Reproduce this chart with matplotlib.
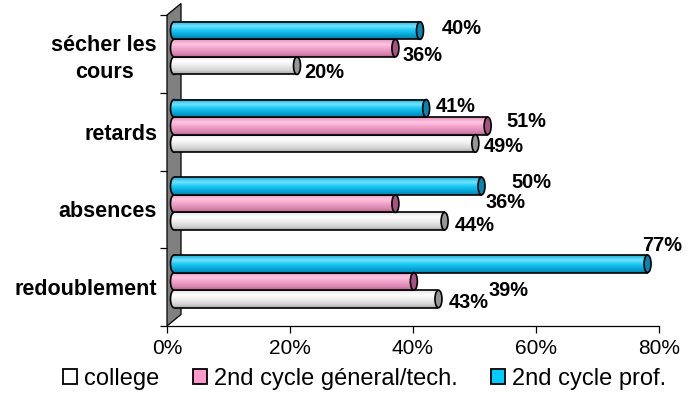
import numpy as np
import matplotlib
matplotlib.use("Agg")
import matplotlib.pyplot as plt
import matplotlib.transforms as mtransforms
from matplotlib.patches import Ellipse, Polygon, Patch
from matplotlib.colors import LinearSegmentedColormap

# ---- data -------------------------------------------------------------
categories = ["redoublement", "absences", "retards", "sécher les\ncours"]
series_names = ["college", "2nd cycle géneral/tech.", "2nd cycle prof."]
college = [43, 44, 49, 20]
general_tech = [39, 36, 51, 36]
prof = [77, 50, 41, 40]
x_ticks = [0, 20, 40, 60, 80]
x_tick_labels = ["0%", "20%", "40%", "60%", "80%"]

# ---- style ------------------------------------------------------------
plt.rcParams["font.family"] = ["Liberation Sans", "DejaVu Sans"]

# vertical shading of each cylinder (top -> bottom) and end-cap colour
gradients = [
    ["#e2e2e2", "#ffffff", "#eeeeee", "#d4d4d4", "#a8a8a8"],
    ["#e690bc", "#ffc6e2", "#f2a6cc", "#da88b2", "#b4668e"],
    ["#14b0dc", "#74e2ff", "#1ccaf6", "#04a2d2", "#0680aa"],
]
cap_colors = ["#969696", "#a45482", "#0a84ac"]
legend_colors = ["#ffffff", "#ff99cc", "#00ccff"]

# label offsets from the bar end, in pixels (right, down) per series/category
label_offsets = {
    0: [(30, 4), (30, 4.5), (28, 3), (27, 6.5)],
    1: [(95, 9.5), (110, -1), (39, -4), (27, 7)],
    2: [(15, -18), (50, -3.5), (30, -2), (42, -2)],
}

W, H, DPI = 698, 394, 100
fig = plt.figure(figsize=(W / DPI, H / DPI), dpi=DPI)
ax_left, ax_right, ax_top, ax_bottom = 167, 659, 15, 326
ax = fig.add_axes([ax_left / W, (H - ax_bottom) / H,
                   (ax_right - ax_left) / W, (ax_bottom - ax_top) / H])
ax.set_xlim(0, 80)
ax.set_ylim(0, len(categories))

px = 1.0 / DPI
# 3-D depth of the chart: wall thickness and bar centre offset
depth_x, depth_y = 14, 11.5
shift = mtransforms.ScaledTranslation(depth_x / 2 * px, depth_y / 2 * px,
                                      fig.dpi_scale_trans)
tr = ax.transData + shift

# ---- side wall ---------------------------------------------------------
fig.canvas.draw()
p_bot = ax.transData.transform((0, 0))
p_top = ax.transData.transform((0, len(categories)))
wall = Polygon([p_bot, p_top,
                p_top + [depth_x, depth_y], p_bot + [depth_x, depth_y]],
               closed=True, transform=mtransforms.IdentityTransform(),
               facecolor="#808080", edgecolor="black", lw=0.9, zorder=1,
               clip_on=False)
ax.add_patch(wall)

# ---- cylinders ---------------------------------------------------------
bar_h = 0.226
ppd = (ax_right - ax_left) / 80.0      # pixels per percent
cap_w = 7.0 / ppd                      # end-cap ellipse width in data units
series = [college, general_tech, prof]
grad_img = np.linspace(0, 1, 64).reshape(-1, 1)

for s, values in enumerate(series):
    cmap = LinearSegmentedColormap.from_list(
        f"cyl{s}", list(zip([0, 0.28, 0.5, 0.8, 1.0], gradients[s])))
    for c, v in enumerate(values):
        yc = c + 0.5 + (s - 1) * bar_h
        y0, y1 = yc - bar_h / 2, yc + bar_h / 2
        z = 3 + s * 0.01 - c * 0.1

        # rounded left end
        left = Ellipse((0, yc), cap_w, bar_h, transform=tr,
                       facecolor="none", edgecolor="none")
        ax.add_patch(left)
        im = ax.imshow(grad_img, extent=(-cap_w / 2, cap_w / 2, y0, y1),
                       cmap=cmap, aspect="auto", origin="upper",
                       transform=tr, zorder=z, interpolation="bilinear")
        im.set_clip_path(left)
        ax.add_patch(Ellipse((0, yc), cap_w, bar_h, transform=tr,
                             facecolor="none", edgecolor="black",
                             lw=1.2, zorder=z + 0.01))
        # body
        ax.imshow(grad_img, extent=(0, v, y0, y1), cmap=cmap, aspect="auto",
                  origin="upper", transform=tr, zorder=z + 0.02,
                  interpolation="bilinear")
        ax.plot([0, v], [y1, y1], color="black", lw=1.2, transform=tr,
                zorder=z + 0.03, solid_capstyle="butt")
        ax.plot([0, v], [y0, y0], color="black", lw=1.2, transform=tr,
                zorder=z + 0.03, solid_capstyle="butt")
        # right end cap
        ax.add_patch(Ellipse((v, yc), cap_w, bar_h, transform=tr,
                             facecolor=cap_colors[s], edgecolor="black",
                             lw=1.2, zorder=z + 0.04))
        # value label
        dx, dy = label_offsets[s][c]
        ax.annotate(f"{v}%", xy=(v, yc), xycoords=tr,
                    xytext=(dx * 0.72, -dy * 0.72), textcoords="offset points",
                    ha="center", va="center", fontsize=14.4,
                    fontweight="bold", zorder=10, annotation_clip=False)

ax.set_xlim(0, 80)
ax.set_ylim(0, len(categories))

# ---- axes ---------------------------------------------------------------
for side in ("top", "right", "left"):
    ax.spines[side].set_visible(False)
ax.spines["bottom"].set_linewidth(0.9)

ax.set_xticks(x_ticks)
ax.set_xticklabels(x_tick_labels, fontsize=15)
ax.tick_params(axis="x", direction="out", length=5, width=0.9, pad=4)

ax.set_yticks(range(len(categories) + 1))
ax.set_yticklabels([])
ax.set_yticks([i + 0.5 for i in range(len(categories))], minor=True)
ax.set_yticklabels(categories, minor=True, fontsize=15.5, fontweight="bold")
ax.tick_params(axis="y", which="major", direction="out", length=5, width=0.9)
ax.tick_params(axis="y", which="minor", length=0, pad=7.2)
for lbl in ax.get_yticklabels(minor=True):
    lbl.set_multialignment("center")
    lbl.set_linespacing(1.35)

# ---- legend ------------------------------------------------------------
handles = [Patch(facecolor=legend_colors[i], edgecolor="black", lw=1.3,
                 label=series_names[i]) for i in range(3)]
fig.legend(handles=handles, loc="center", ncol=3, frameon=False,
           bbox_to_anchor=(364.5 / W, (H - 379) / H), fontsize=17,
           handlelength=0.6, handleheight=0.6, handletextpad=0.3,
           columnspacing=1.4, borderpad=0, borderaxespad=0)

fig.savefig("out.png", dpi=DPI)
